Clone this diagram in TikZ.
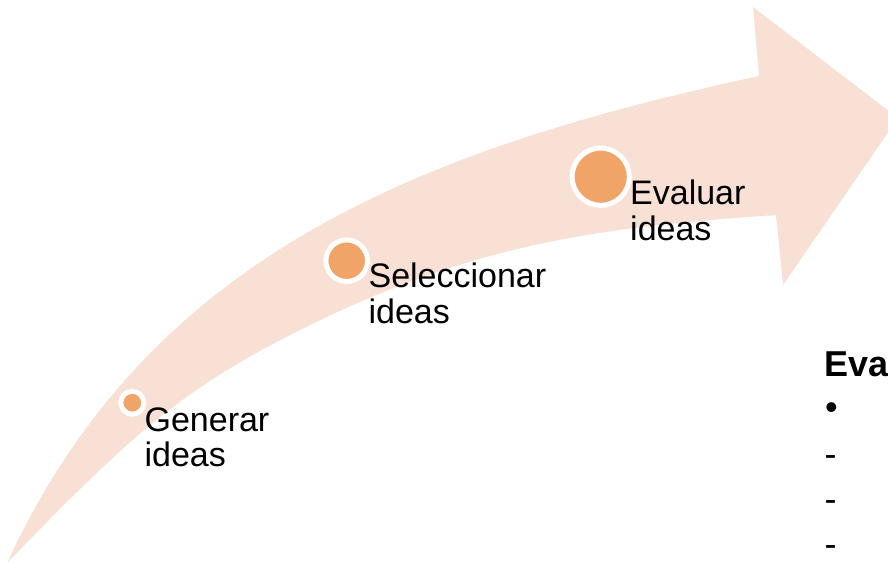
\documentclass[tikz,border=0pt]{standalone}
\usepackage{fontspec}
\setmainfont{Liberation Sans}
\definecolor{band}{RGB}{249,224,212}
\definecolor{dot}{RGB}{241,164,104}

\begin{document}
\begin{tikzpicture}[x=1pt,y=-1pt,
        stage/.style={circle,fill=dot,draw=white,line width=5pt,inner sep=0pt},
        lbl/.style={anchor=base west,align=left,inner sep=0pt,font=\fontsize{34}{35.5}\selectfont},
        item/.style={anchor=base west,inner sep=0pt,text depth=0pt,font=\fontsize{36}{42}\selectfont}]
        \useasboundingbox (0,0) rectangle (888,563);
        \clip (0,0) rectangle (888,563);
        % curved arrow
        \fill [band] (8,561) .. controls (148,258.6) and (414,150.2) .. (759,76)
                -- (753,7) -- (898,118) -- (783,285) -- (776,215)
                .. controls (601,227.25) and (475,242.5) .. (300,330)
                .. controls (180,390) and (128,438) .. (8,562) -- cycle;
        % stages
        \node [stage, minimum size=23pt] (GC) at (132.3, 402.7) {};
        \node [stage, minimum size=41.6pt] (SC) at (346.7, 260.7) {};
        \node [stage, minimum size=57.2pt] (EC) at (600.7, 176.7) {};
        \node [lbl] (GT) at (144.4, 466.7) {Generar\\ideas};
        \node [lbl] (ST) at (368.4, 323.3) {Seleccionar\\ideas};
        \node [lbl] (ET) at (630, 240) {Evaluar\\ideas};
        % list on the right
        \node [item, font=\bfseries\fontsize{36}{42}\selectfont] (H) at (824, 376.7) {Eva};
        \node [item] (B) at (825, 419) {•};
        \foreach \y in {466.5, 511.5, 556.5}
                \node [item] at (824.4, \y) {-};
\end{tikzpicture}
\end{document}
